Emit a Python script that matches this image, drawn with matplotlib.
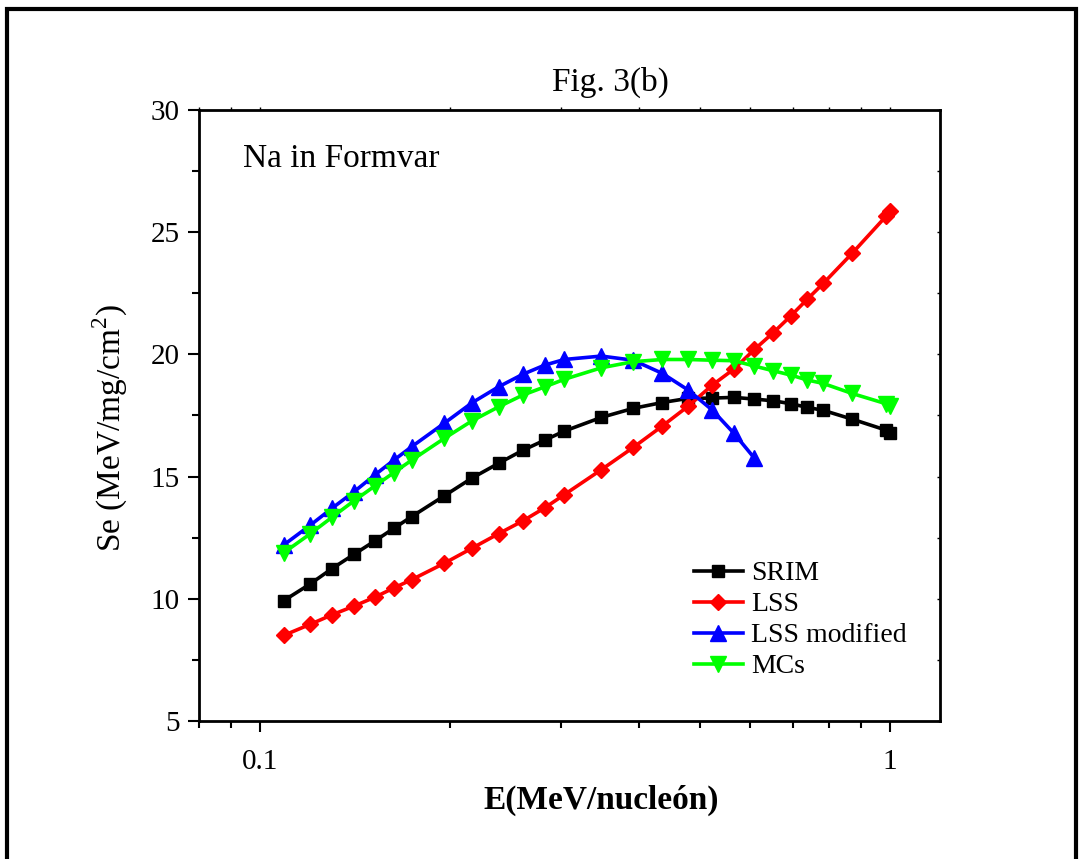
import numpy as np
import matplotlib
matplotlib.use("Agg")
import matplotlib.pyplot as plt
from matplotlib.patches import Rectangle
from matplotlib.ticker import FixedLocator, FixedFormatter, NullFormatter

plt.rcParams["font.family"] = ["Liberation Serif", "DejaVu Serif"]
plt.rcParams["mathtext.fontset"] = "custom"
plt.rcParams["mathtext.rm"] = "Liberation Serif"

# energy per nucleon (MeV/nucleon)
energy = [0.109, 0.120, 0.130, 0.141, 0.152, 0.163, 0.174, 0.196, 0.217,
          0.239, 0.261, 0.283, 0.304, 0.348, 0.391, 0.435, 0.478, 0.522,
          0.565, 0.609, 0.652, 0.696, 0.739, 0.783, 0.870, 0.985, 1.000]

srim = [9.92, 10.60, 11.23, 11.82, 12.36, 12.88, 13.36, 14.21, 14.94,
        15.54, 16.07, 16.49, 16.86, 17.42, 17.79, 18.03, 18.20, 18.21,
        18.24, 18.17, 18.10, 17.98, 17.83, 17.71, 17.35, 16.90, 16.78]

lss = [8.50, 8.95, 9.34, 9.70, 10.06, 10.44, 10.78, 11.45, 12.07,
       12.66, 13.18, 13.72, 14.26, 15.28, 16.19, 17.07, 17.88, 18.74,
       19.40, 20.20, 20.88, 21.58, 22.26, 22.90, 24.13, 25.65, 25.85]

lss_mod = [12.20, 13.00, 13.70, 14.38, 15.06, 15.67, 16.22, 17.18, 18.02,
           18.67, 19.18, 19.56, 19.79, 19.93, 19.76, 19.22, 18.54, 17.72,
           16.77, 15.75]

mcs = [11.88, 12.65, 13.33, 14.01, 14.61, 15.16, 15.67, 16.56, 17.28,
       17.85, 18.33, 18.67, 18.98, 19.45, 19.70, 19.79, 19.79, 19.76,
       19.74, 19.52, 19.33, 19.15, 18.95, 18.81, 18.40, 17.98, 17.88]

series = [
    ("SRIM", energy, srim, "#000000", "s", 9),
    ("LSS", energy, lss, "#FF0000", "D", 8.5),
    ("LSS modified", energy[:len(lss_mod)], lss_mod, "#0000FF", "^", 11),
    ("MCs", energy, mcs, "#00FF00", "v", 11),
]

fig = plt.figure(figsize=(10.84, 8.59), dpi=100)
ax = fig.add_axes([0.1836, 0.1607, 0.6836, 0.7113])

for label, x, y, col, mk, ms in series:
    ax.plot(x, y, color=col, marker=mk, markersize=ms, linewidth=2.6,
            label=label)

ax.set_xscale("log")
ax.set_xlim(0.08, 1.2)
ax.set_ylim(5, 30)

ax.xaxis.set_major_locator(FixedLocator([0.1, 1.0]))
ax.xaxis.set_major_formatter(FixedFormatter(["0.1", "1"]))
ax.xaxis.set_minor_locator(FixedLocator([0.08, 0.09, 0.2, 0.3, 0.4, 0.5,
                                         0.6, 0.7, 0.8, 0.9]))
ax.xaxis.set_minor_formatter(NullFormatter())
ax.set_yticks([5, 10, 15, 20, 25, 30])
ax.set_yticks(np.arange(7.5, 30, 5), minor=True)

ax.tick_params(which="major", direction="out", length=8, width=1.5,
               labelsize=21, pad=12)
ax.tick_params(which="minor", direction="out", length=5, width=1.5)
ax.tick_params(axis="y", which="major", pad=6)
for sp in ax.spines.values():
    sp.set_linewidth(2)

# tiny ticks on top and right
top = ax.secondary_xaxis("top")
top.xaxis.set_major_locator(FixedLocator([0.1, 1.0]))
top.xaxis.set_minor_locator(FixedLocator([0.08, 0.09, 0.2, 0.3, 0.4, 0.5,
                                          0.6, 0.7, 0.8, 0.9]))
top.tick_params(which="both", direction="out", length=2, width=1,
                labeltop=False)
right = ax.secondary_yaxis("right")
right.set_yticks([5, 10, 15, 20, 25, 30])
right.set_yticks(np.arange(7.5, 30, 5), minor=True)
right.tick_params(which="both", direction="in", length=2, width=1,
                  labelright=False)

ax.set_xlabel("E(MeV/nucleón)", fontsize=24, fontweight="bold", labelpad=6)
ax.xaxis.set_label_coords(0.5425, -0.105)
ax.set_ylabel("Se (MeV/mg/cm$^{\\mathrm{2}}$)", fontsize=24)
ax.yaxis.set_label_coords(-0.093, 0.48)
ax.text(0.555, 1.045, "Fig. 3(b)", transform=ax.transAxes, fontsize=24,
        ha="center", va="center")

ax.text(0.06, 0.92, "Na in Formvar", transform=ax.transAxes, fontsize=24,
        va="center", ha="left")

ax.legend(loc="upper left", bbox_to_anchor=(0.668, 0.262), frameon=False,
          fontsize=20, handlelength=1.75, handletextpad=0.3,
          labelspacing=0.2, borderpad=0, borderaxespad=0)

# outer frame
fig.patches.append(Rectangle((0.0065, -0.05), 0.986, 1.04, transform=fig.transFigure,
                             fill=False, edgecolor="black", linewidth=3))

fig.savefig("out.png", dpi=100)
